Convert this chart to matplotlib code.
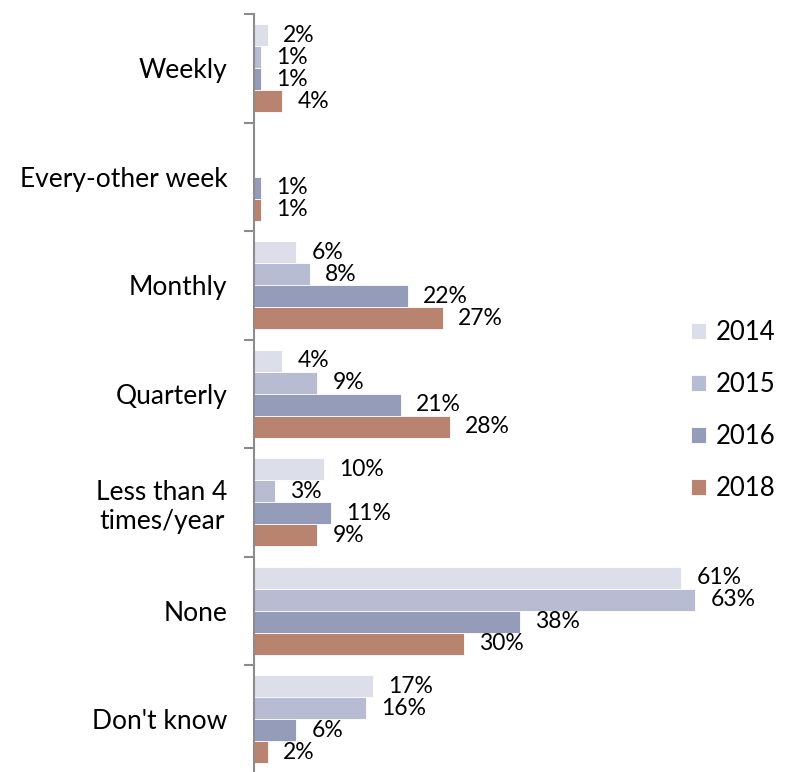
import matplotlib.pyplot as plt
import numpy as np

plt.rcParams['font.family'] = ['Lato', 'DejaVu Sans']

categories = ['Weekly', 'Every-other week', 'Monthly', 'Quarterly',
              'Less than 4\ntimes/year', 'None', "Don't know"]
years = ['2014', '2015', '2016', '2018']
v2014 = [2, 0, 6, 4, 10, 61, 17]
v2015 = [1, 0, 8, 9, 3, 63, 16]
v2016 = [1, 1, 22, 21, 11, 38, 6]
v2018 = [4, 1, 27, 28, 9, 30, 2]
colors = ['#dcdee9', '#b7bcd3', '#949cba', '#b8846f']

series = [v2014, v2015, v2016, v2018]
n_cat = len(categories)
y = np.arange(n_cat)
h = 0.203

fig = plt.figure(figsize=(7.86, 7.72), dpi=100)
ax = fig.add_axes([254 / 786, -1.5 / 772, 1 - 254 / 786, 759.5 / 772])

for k, (vals, col, yr) in enumerate(zip(series, colors, years)):
    pos = y + (k - 1.5) * h
    ax.barh(pos, vals, height=h, color=col, edgecolor='white', linewidth=0.6, label=yr)
    for p, v in zip(pos, vals):
        if v == 0:
            continue
        ax.annotate(f'{v}%', (v, p), xytext=(11, 0), textcoords='offset points',
                    va='center', ha='left', fontsize=16.5, color='black')

ax.set_xlim(0, (786 - 254) / 7.0)
ax.set_ylim(n_cat - 0.5, -0.5)

for s in ['top', 'right', 'bottom']:
    ax.spines[s].set_visible(False)
ax.spines['left'].set_color('#8c8c8c')
ax.spines['left'].set_linewidth(1.5)
ax.set_xticks([])

ax.set_yticks(np.arange(-0.5, n_cat, 1.0))
ax.set_yticklabels([])
ax.tick_params(axis='y', which='major', length=7, width=1.5, color='#8c8c8c', direction='out')
ax.set_yticks(y, minor=True)
ax.set_yticklabels(categories, minor=True, fontsize=19, ha='right', multialignment='center')
ax.tick_params(axis='y', which='minor', length=0, pad=19)

leg = ax.legend(loc='center left', bbox_to_anchor=(0.778, 0.478), frameon=False,
                fontsize=18.5, handlelength=0.6, handleheight=0.6, labelspacing=1.05,
                handletextpad=0.35)

fig.savefig('out.png', dpi=100)
